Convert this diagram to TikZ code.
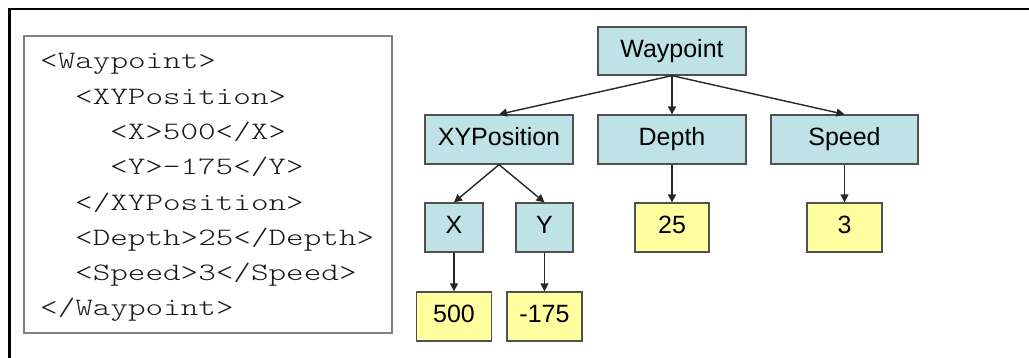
\documentclass[tikz,border=0pt]{standalone}
\usepackage{fontspec}
\setmainfont{Liberation Sans}
\newfontfamily\xmlfont[FakeStretch=1.34]{Latin Modern Mono Light}
\usetikzlibrary{arrows.meta}
\definecolor{tagfill}{RGB}{190,226,230}
\definecolor{valfill}{RGB}{255,255,160}
\definecolor{boxline}{RGB}{80,80,80}
\tikzset{
  elem/.style={draw=boxline, line width=1.3pt, fill=tagfill, inner sep=0pt,
    text height=17.9pt, text depth=5.2pt,
    font=\fontsize{25}{30}\selectfont},
  val/.style={elem, fill=valfill},
  link/.style={draw=black!85, line width=1.4pt, -{Triangle[length=8pt,width=8pt]}},
  xmlline/.style={anchor=base west, inner sep=0pt, font=\xmlfont\fontsize{25}{30}\selectfont, text=black!90}
}
\begin{document}
\begin{tikzpicture}[x=1pt,y=-1pt]
\useasboundingbox (0,0) rectangle (1029,358);
% frame edges
\draw[line width=2.6pt] (9.5,358) -- (9.5,9) -- (1029,9);
% XML listing
\draw[draw=black!50, line width=1.5pt] (24,36) rectangle (392,333);
\node[xmlline] (l1) at (40,69)    {<Waypoint>};
\node[xmlline] (l2) at (75,104.3) {<XYPosition>};
\node[xmlline] (l3) at (110,139.6){<X>500</X>};
\node[xmlline] (l4) at (110,174.9){<Y>-175</Y>};
\node[xmlline] (l5) at (75,210.1) {</XYPosition>};
\node[xmlline] (l6) at (75,245.4) {<Depth>25</Depth>};
\node[xmlline] (l7) at (75,280.7) {<Speed>3</Speed>};
\node[xmlline] (l8) at (40,316)   {</Waypoint>};
% tree
\node[elem, minimum width=148pt, minimum height=48pt] (wp) at (672,51) {Waypoint};
\node[elem, minimum width=148pt, minimum height=49pt] (xy) at (499,139.5) {XYPosition};
\node[elem, minimum width=148pt, minimum height=49pt] (dp) at (672,139.5) {Depth};
\node[elem, minimum width=147pt, minimum height=49pt] (sp) at (844.5,139.5) {Speed};
\node[elem, minimum width=58pt, minimum height=49pt] (x) at (454,227.5) {X};
\node[elem, minimum width=57pt, minimum height=49pt] (y) at (544.5,227.5) {Y};
\node[val, minimum width=74pt, minimum height=49pt] (d25) at (672,227.5) {25};
\node[val, minimum width=75pt, minimum height=49pt] (s3) at (844.5,227.5) {3};
\node[val, minimum width=75pt, minimum height=49pt] (x500) at (454,316.5) {500};
\node[val, minimum width=75pt, minimum height=49pt] (y175) at (544.5,316.5) {-175};
\draw[link] (wp.south) -- (xy.north);
\draw[link] (wp.south) -- (dp.north);
\draw[link] (wp.south) -- (sp.north);
\draw[link] (xy.south) -- (x.north);
\draw[link] (xy.south) -- (y.north);
\draw[link] (dp.south) -- (d25.north);
\draw[link] (sp.south) -- (s3.north);
\draw[link] (x.south) -- (x500.north);
\draw[link] (y.south) -- (y175.north);
\end{tikzpicture}
\end{document}
